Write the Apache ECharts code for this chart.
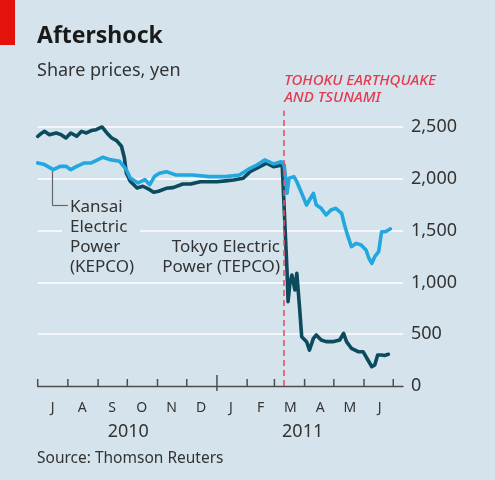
<!DOCTYPE html>
<html><head><meta charset="utf-8">
<script src="https://cdn.jsdelivr.net/npm/echarts@6/dist/echarts.min.js"></script>
<style>html,body{margin:0;padding:0;background:#d5e4ec}#c{width:495px;height:480px}</style>
</head><body><div id="c"></div>
<script>
// ---- data ----
const tepcoDates = ['2010-07-01','2010-07-05','2010-07-08','2010-07-13','2010-07-20','2010-07-25','2010-07-30','2010-08-04','2010-08-10','2010-08-15','2010-08-20','2010-08-25','2010-08-30','2010-09-05','2010-09-10','2010-09-15','2010-09-20','2010-09-25','2010-09-28','2010-09-30','2010-10-04','2010-10-11','2010-10-17','2010-10-24','2010-10-28','2010-11-02','2010-11-10','2010-11-17','2010-11-27','2010-12-05','2010-12-15','2011-01-01','2011-01-10','2011-01-18','2011-01-28','2011-02-04','2011-02-14','2011-02-21','2011-02-28','2011-03-09','2011-03-11','2011-03-14','2011-03-15','2011-03-17','2011-03-19','2011-03-22','2011-03-24','2011-03-27','2011-03-29','2011-04-03','2011-04-06','2011-04-10','2011-04-13','2011-04-18','2011-04-23','2011-04-30','2011-05-07','2011-05-11','2011-05-14','2011-05-19','2011-05-26','2011-05-31','2011-06-05','2011-06-09','2011-06-12','2011-06-15','2011-06-19','2011-06-22','2011-06-26'];
const tepcoValues = [2410,2440,2458,2426,2442,2426,2394,2442,2410,2458,2442,2465,2474,2500,2442,2394,2368,2314,2201,2056,1976,1911,1928,1895,1870,1880,1908,1915,1950,1950,1972,1972,1980,1988,2005,2069,2117,2150,2117,2133,2150,1100,814,1000,1071,927,1088,734,476,428,347,460,492,444,428,428,444,508,428,364,331,331,251,186,203,299,299,295,306];
const kepcoDates = ['2010-07-01','2010-07-08','2010-07-17','2010-07-24','2010-07-30','2010-08-04','2010-08-10','2010-08-18','2010-08-25','2010-09-01','2010-09-06','2010-09-13','2010-09-23','2010-09-30','2010-10-04','2010-10-12','2010-10-19','2010-10-24','2010-10-29','2010-11-03','2010-11-10','2010-11-20','2010-12-07','2010-12-24','2011-01-10','2011-01-24','2011-02-04','2011-02-11','2011-02-19','2011-02-28','2011-03-08','2011-03-11','2011-03-14','2011-03-16','2011-03-21','2011-03-24','2011-03-29','2011-04-03','2011-04-07','2011-04-10','2011-04-13','2011-04-18','2011-04-23','2011-04-28','2011-05-03','2011-05-09','2011-05-12','2011-05-15','2011-05-19','2011-05-24','2011-05-29','2011-06-03','2011-06-06','2011-06-09','2011-06-12','2011-06-16','2011-06-19','2011-06-23','2011-06-26','2011-06-28'];
const kepcoValues = [2153,2137,2088,2120,2120,2088,2120,2153,2153,2185,2208,2185,2169,2088,2008,1960,1992,1943,2024,2053,2069,2037,2037,2021,2021,2037,2101,2133,2182,2143,2165,2133,1860,2005,2021,1972,1860,1747,1812,1860,1747,1715,1651,1699,1715,1667,1554,1458,1345,1377,1361,1313,1233,1184,1248,1296,1489,1489,1506,1516];
const monthCategories = ['J','A','S','O','N','D','J','F','M','A','M','J'];
const monthStarts = ['2010-07-01','2010-08-01','2010-09-01','2010-10-01','2010-11-01','2010-12-01','2011-01-01','2011-02-01','2011-03-01','2011-04-01','2011-05-01','2011-06-01','2011-07-01'];
const yearBoundary = '2011-01-01';
const yearLabelDates = ['2010-10-02','2011-03-30'];
const yearLabels = ['2010','2011'];
const yTickValues = [0,500,1000,1500,2000,2500];
const quakeDate = '2011-03-11';
const quakeText = 'TOHOKU EARTHQUAKE\nAND TSUNAMI';
const axisStart = '2010-07-01', axisEnd = '2011-07-11';
const leaderStart = ['2010-07-16', 2095], leaderCorner = ['2010-07-16', 1745], leaderEnd = ['2010-08-01', 1745];

// ---- helpers ----
const t = s => { const [y,m,d] = s.split('-').map(Number); return new Date(y, m-1, d).getTime(); };
const zip = (ds, vs) => ds.map((d,i) => [t(d), vs[i]]);
const FONT = "'Noto Sans', 'Open Sans', sans-serif";
const INK = '#333';
const AXIS = '#4d4d4d';
const BG = '#d5e4ec';
const yearTs = yearLabelDates.map(t);
const yearBoundaryTs = t(yearBoundary);

const chart = echarts.init(document.getElementById('c'), null, {renderer:'canvas'});
const xBase = {type:'value', min:t(axisStart), max:t(axisEnd), gridIndex:0, position:'bottom', splitLine:{show:false}};
chart.setOption({
  backgroundColor:BG,
  animation:false,
  textStyle:{fontFamily:FONT},
  grid:[
    {left:37.7, right:92, top:110.4, bottom:94, containLabel:false},
    {left:37.7, right:100.5, top:110.4, bottom:94, containLabel:false}
  ],
  xAxis:[
    Object.assign({}, xBase, {
      axisLine:{show:true, lineStyle:{color:AXIS, width:1.4}},
      axisTick:{show:false},
      axisLabel:{show:false}
    }),
    Object.assign({}, xBase, {
      axisLine:{show:false},
      axisTick:{show:false},
      axisLabel:{show:true, customValues:yearTs, formatter:v => { const i = yearTs.indexOf(v); return i >= 0 ? yearLabels[i] : ''; }, color:INK, fontSize:18, fontFamily:FONT, margin:37}
    }),
    {type:'category', data:monthCategories, gridIndex:1, position:'bottom', boundaryGap:true,
     splitLine:{show:false}, axisLine:{show:false}, axisTick:{show:false},
     axisLabel:{show:true, interval:0, color:INK, fontSize:14, fontFamily:FONT, margin:15}}
  ],
  yAxis:[
    {
      type:'value', gridIndex:0, min:0, max:2660, interval:500, position:'right',
      axisLine:{show:false}, axisTick:{show:false},
      splitLine:{show:true, showMinLine:false, showMaxLine:false, lineStyle:{color:'#ffffff', width:1.6}},
      axisLabel:{show:true, customValues:yTickValues, formatter:v => yTickValues.includes(v) ? v.toLocaleString('en-US') : '', color:INK, fontSize:18, fontFamily:FONT, margin:8}
    },
    {type:'value', gridIndex:1, min:0, max:2660, show:false, splitLine:{show:false}}
  ],
  series:[
    {
      name:'month ticks', type:'custom', xAxisIndex:0, yAxisIndex:0, silent:true, clip:false, z:5,
      data:monthStarts.map(d => [t(d), 0]),
      renderItem:(params, api) => {
        const p = api.coord([api.value(0), api.value(1)]);
        const isYear = api.value(0) === yearBoundaryTs;
        return {type:'line', shape:{x1:p[0], y1:p[1] + (isYear ? 5 : 0), x2:p[0], y2:p[1] - (isYear ? 11 : 7)},
                style:{stroke:AXIS, lineWidth:1.5}};
      }
    },
    {
      name:'Tokyo Electric Power (TEPCO)', type:'line', xAxisIndex:0, yAxisIndex:0, data:zip(tepcoDates, tepcoValues),
      showSymbol:false, symbol:'none', clip:false, z:3,
      lineStyle:{color:'#0c4a5e', width:3.6, join:'round', cap:'round'},
      markLine:{
        silent:true, symbol:'none', animation:false,
        lineStyle:{color:'#e8506a', type:[6,4], width:1.6},
        label:{show:true, position:'end', formatter:quakeText, align:'left', verticalAlign:'bottom', distance:4,
               color:'#e63a50', fontStyle:'italic', fontWeight:500, fontSize:15, lineHeight:17, fontFamily:FONT},
        data:[{xAxis:t(quakeDate)}]
      }
    },
    {
      name:'Kansai Electric Power (KEPCO)', type:'line', xAxisIndex:0, yAxisIndex:0, data:zip(kepcoDates, kepcoValues),
      showSymbol:false, symbol:'none', clip:false, z:4,
      lineStyle:{color:'#22a7de', width:3.6, join:'round', cap:'round'},
      markLine:{
        silent:true, symbol:'none', animation:false, z:1,
        lineStyle:{color:'#666', type:'solid', width:1.2},
        label:{show:false},
        data:[
          [{coord:[t(leaderStart[0]), leaderStart[1]]}, {coord:[t(leaderCorner[0]), leaderCorner[1]]}],
          [{coord:[t(leaderCorner[0]), leaderCorner[1]]}, {coord:[t(leaderEnd[0]), leaderEnd[1]]}]
        ]
      }
    }
  ],
  graphic:[
    {type:'rect', shape:{x:0, y:0, width:15, height:45}, style:{fill:'#e3120b'}, z:10},
    {type:'text', x:37, y:36, style:{text:'Aftershock', font:"bold 23px "+FONT, fill:'#1a1a1a', verticalAlign:'middle'}, z:10},
    {type:'text', x:37, y:71, style:{text:'Share prices, yen', font:"18px "+FONT, fill:INK, verticalAlign:'middle'}, z:10},
    {type:'text', x:37, y:459, style:{text:'Source: Thomson Reuters', font:"15.5px "+FONT, fill:INK, verticalAlign:'middle'}, z:10},
    {type:'text', x:62, y:197, z:1,
     style:{text:'Kansai\nElectric\nPower\n(KEPCO)', font:"17px "+FONT, lineHeight:20, fill:INK, backgroundColor:BG, padding:[0,6,0,8], verticalAlign:'top'}},
    {type:'text', x:280, y:237, z:10,
     style:{text:'Tokyo Electric\nPower (TEPCO)', font:"17px "+FONT, lineHeight:20, fill:INK, align:'right', verticalAlign:'top'}}
  ]
});
</script></body></html>
